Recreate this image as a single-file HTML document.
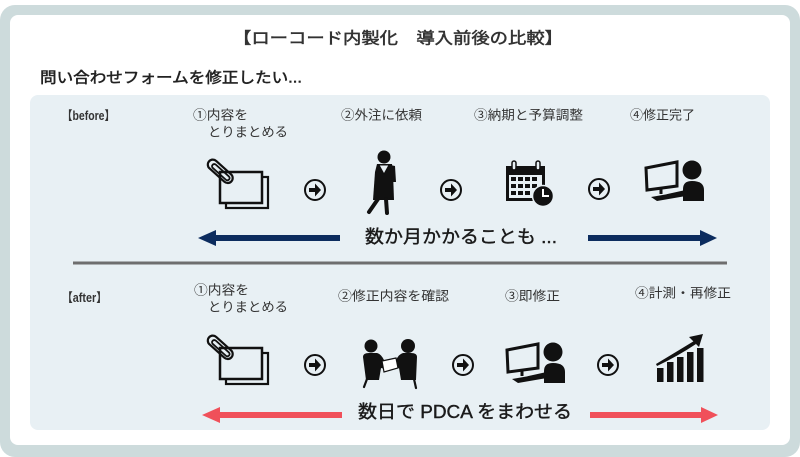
<!DOCTYPE html>
<html>
<head>
<meta charset="utf-8">
<style>
html,body{margin:0;padding:0;background:#fff;}
svg{display:block;}
text{font-family:"Liberation Sans","Noto Sans CJK JP",sans-serif;}
</style>
</head>
<body>
<svg width="800" height="457" viewBox="0 0 800 457" xmlns="http://www.w3.org/2000/svg">
  <!-- frame -->
  <rect x="0" y="5" width="800" height="452" rx="15" fill="#cddbdc"/>
  <rect x="10" y="15" width="780" height="430" rx="8" fill="#ffffff"/>
  <rect x="30" y="95" width="740" height="335" rx="8" fill="#e8f0f4"/>

  <!-- titles -->
  <text x="233" y="39" font-size="16" fill="#333" stroke="#333" stroke-width="0.5" dominant-baseline="central" textLength="330" lengthAdjust="spacingAndGlyphs">【ローコード内製化　導入前後の比較】</text>
  <text x="40" y="78" font-size="15" fill="#222" stroke="#222" stroke-width="0.5" dominant-baseline="central" textLength="262" lengthAdjust="spacingAndGlyphs">問い合わせフォームを修正したい...</text>

  <!-- before labels -->
  <text x="62" y="116" font-size="12.5" font-weight="bold" fill="#333" dominant-baseline="central" textLength="53" lengthAdjust="spacingAndGlyphs">【before】</text>
  <g font-size="13" fill="#333" dominant-baseline="central">
    <text x="193" y="115" textLength="55" lengthAdjust="spacingAndGlyphs">①内容を</text>
    <text x="208" y="132" textLength="80" lengthAdjust="spacingAndGlyphs">とりまとめる</text>
    <text x="341" y="115" textLength="81" lengthAdjust="spacingAndGlyphs">②外注に依頼</text>
    <text x="474" y="115" textLength="109" lengthAdjust="spacingAndGlyphs">③納期と予算調整</text>
    <text x="630" y="115" textLength="65" lengthAdjust="spacingAndGlyphs">④修正完了</text>
  </g>

  <!-- after labels -->
  <text x="62" y="298" font-size="12.5" font-weight="bold" fill="#333" dominant-baseline="central" textLength="45" lengthAdjust="spacingAndGlyphs">【after】</text>
  <g font-size="13" fill="#333" dominant-baseline="central">
    <text x="194" y="290" textLength="55" lengthAdjust="spacingAndGlyphs">①内容を</text>
    <text x="208" y="307" textLength="80" lengthAdjust="spacingAndGlyphs">とりまとめる</text>
    <text x="338" y="296" textLength="111" lengthAdjust="spacingAndGlyphs">②修正内容を確認</text>
    <text x="505" y="296" textLength="55" lengthAdjust="spacingAndGlyphs">③即修正</text>
    <text x="635" y="293" textLength="96" lengthAdjust="spacingAndGlyphs">④計測・再修正</text>
  </g>

  <!-- paper + clip icon (before) -->
  <g>
    <rect x="226" y="177" width="42" height="31" fill="#e8f0f4" stroke="#111" stroke-width="2.2"/>
    <rect x="220" y="172" width="42" height="31" fill="#e8f0f4" stroke="#111" stroke-width="2.5"/>
    <g transform="translate(221,172) rotate(42)">
      <rect x="-16" y="-5" width="30" height="10" rx="5" fill="none" stroke="#111" stroke-width="2.2"/>
      <rect x="-11" y="-2" width="22" height="4.5" rx="2.2" fill="none" stroke="#111" stroke-width="1.8"/>
    </g>
  </g>
  <!-- paper (after) -->
  <g transform="translate(0,176)">
    <rect x="226" y="177" width="42" height="31" fill="#e8f0f4" stroke="#111" stroke-width="2.2"/>
    <rect x="220" y="172" width="42" height="31" fill="#e8f0f4" stroke="#111" stroke-width="2.5"/>
    <g transform="translate(221,172) rotate(42)">
      <rect x="-16" y="-5" width="30" height="10" rx="5" fill="none" stroke="#111" stroke-width="2.2"/>
      <rect x="-11" y="-2" width="22" height="4.5" rx="2.2" fill="none" stroke="#111" stroke-width="1.8"/>
    </g>
  </g>

  <!-- circle arrows -->
  <g fill="none" stroke="#111" stroke-width="2">
    <circle cx="315" cy="190" r="10"/>
    <circle cx="451" cy="190" r="10"/>
    <circle cx="599" cy="189" r="10"/>
    <circle cx="315" cy="365" r="10"/>
    <circle cx="463" cy="365" r="10"/>
    <circle cx="608" cy="365" r="10"/>
  </g>
  <g fill="#111">
    <path d="M309 188 h6 v-4.5 l6 6.5 l-6 6.5 v-4.5 h-6 z"/>
    <path d="M445 188 h6 v-4.5 l6 6.5 l-6 6.5 v-4.5 h-6 z"/>
    <path d="M593 187 h6 v-4.5 l6 6.5 l-6 6.5 v-4.5 h-6 z"/>
    <path d="M309 363 h6 v-4.5 l6 6.5 l-6 6.5 v-4.5 h-6 z"/>
    <path d="M457 363 h6 v-4.5 l6 6.5 l-6 6.5 v-4.5 h-6 z"/>
    <path d="M602 363 h6 v-4.5 l6 6.5 l-6 6.5 v-4.5 h-6 z"/>
  </g>

  <!-- woman -->
  <g fill="#111">
    <circle cx="384" cy="157" r="6.5"/>
    <path d="M377 164 L392 164 L393 172 L394 200 L373 200 L375 172 Z"/>
    <path d="M390 165 L395 166 L396 182 L392 182 Z"/>
  </g>
  <path d="M379 165 L389 165 L384 174 Z" fill="#e8f0f4" stroke="#111" stroke-width="1"/>
  <g stroke="#111" stroke-width="4" stroke-linecap="round">
    <line x1="378" y1="199" x2="369" y2="212"/>
    <line x1="386" y1="199" x2="387" y2="213"/>
  </g>

  <!-- calendar -->
  <rect x="506" y="166" width="39" height="35" fill="#111"/>
  <rect x="509" y="175" width="33" height="23" fill="#e8f0f4"/>
  <g fill="#111">
    <rect x="511" y="177" width="5" height="4"/><rect x="518" y="177" width="5" height="4"/><rect x="525" y="177" width="5" height="4"/><rect x="532" y="177" width="5" height="4"/>
    <rect x="511" y="184" width="5" height="4"/><rect x="518" y="184" width="5" height="4"/><rect x="525" y="184" width="5" height="4"/><rect x="532" y="184" width="5" height="4"/>
    <rect x="511" y="191" width="5" height="4"/><rect x="518" y="191" width="5" height="4"/><rect x="525" y="191" width="5" height="4"/>
  </g>
  <rect x="512" y="161" width="4" height="9" rx="2" fill="#e8f0f4" stroke="#111" stroke-width="1.5"/>
  <rect x="536" y="161" width="4" height="9" rx="2" fill="#e8f0f4" stroke="#111" stroke-width="1.5"/>
  <circle cx="543" cy="196" r="10.5" fill="#111" stroke="#e8f0f4" stroke-width="1.5"/>
  <path d="M543 189 V196 H549" fill="none" stroke="#fff" stroke-width="2"/>

  <!-- computer person (before) -->
  <g>
    <path d="M646 168 L677 162 L677 186 L647 190 Z" fill="none" stroke="#111" stroke-width="3"/>
    <line x1="661" y1="189" x2="661" y2="194" stroke="#111" stroke-width="3"/>
    <path d="M651 197 L680 192 L686 196 L657 201 Z" fill="#111"/>
    <circle cx="692" cy="170" r="9.5" fill="#111"/>
    <path d="M683 201 L683 189 Q683 181 692 181 Q704 181 704 190 L704 201 Z" fill="#111"/>
    <line x1="686" y1="192" x2="668" y2="196" stroke="#111" stroke-width="4" stroke-linecap="round"/>
  </g>
  <!-- computer person (after) -->
  <g transform="translate(-139,182)">
    <path d="M646 168 L677 162 L677 186 L647 190 Z" fill="none" stroke="#111" stroke-width="3"/>
    <line x1="661" y1="189" x2="661" y2="194" stroke="#111" stroke-width="3"/>
    <path d="M651 197 L680 192 L686 196 L657 201 Z" fill="#111"/>
    <circle cx="692" cy="170" r="9.5" fill="#111"/>
    <path d="M683 201 L683 189 Q683 181 692 181 Q704 181 704 190 L704 201 Z" fill="#111"/>
    <line x1="686" y1="192" x2="668" y2="196" stroke="#111" stroke-width="4" stroke-linecap="round"/>
  </g>

  <!-- handshake -->
  <g fill="#111">
    <circle cx="371" cy="346" r="6.5"/>
    <circle cx="408" cy="346" r="7"/>
    <path d="M363 357 Q363 353 369 353 L377 353 Q381 354 384 360 L393 363 L391 370 L381 368 L379 380 L366 380 Z"/>
    <path d="M417 357 Q417 353 411 353 L403 353 Q399 354 396 360 L388 363 L389 370 L399 368 L401 380 L416 380 Z"/>
  </g>
  <path d="M382 361 L396 358 L398 368 L384 372 Z" fill="#fff" stroke="#111" stroke-width="1.2"/>
  <g stroke="#111" stroke-width="2.2" stroke-linecap="round">
    <line x1="367" y1="379" x2="364" y2="387"/>
    <line x1="414" y1="379" x2="416" y2="388"/>
  </g>

  <!-- bar chart -->
  <g fill="#111">
    <rect x="657" y="368" width="6.5" height="14"/>
    <rect x="667" y="362" width="6.5" height="20"/>
    <rect x="677" y="357" width="6.5" height="25"/>
    <rect x="687" y="352" width="6.5" height="30"/>
    <rect x="697" y="348" width="6.5" height="34"/>
    <path d="M656 364 Q676 352 694 341 L696 344 Q678 356 657 366 Z"/>
    <path d="M703 334 L689 337 L699 347 Z"/>
  </g>

  <!-- navy arrows -->
  <g fill="#0c2c5e">
    <rect x="214" y="235" width="126" height="6"/>
    <path d="M198 238 L216 230 L216 246 Z"/>
    <rect x="588" y="235" width="114" height="6"/>
    <path d="M717 238 L700 230 L700 246 Z"/>
  </g>
  <text x="365" y="237" font-size="18" fill="#1a1a1a" stroke="#1a1a1a" stroke-width="0.4" dominant-baseline="central" textLength="192" lengthAdjust="spacingAndGlyphs">数か月かかることも ...</text>

  <!-- divider -->
  <line x1="73" y1="263" x2="727" y2="263" stroke="#6e6e6e" stroke-width="3"/>

  <!-- red arrows -->
  <g fill="#f0505a">
    <rect x="218" y="412" width="124" height="6"/>
    <path d="M202 415 L220 407 L220 423 Z"/>
    <rect x="590" y="412" width="113" height="6"/>
    <path d="M718 415 L701 407 L701 423 Z"/>
  </g>
  <text x="358" y="412" font-size="18" fill="#1a1a1a" stroke="#1a1a1a" stroke-width="0.4" dominant-baseline="central" textLength="214" lengthAdjust="spacingAndGlyphs">数日で PDCA をまわせる</text>
</svg>
</body>
</html>
